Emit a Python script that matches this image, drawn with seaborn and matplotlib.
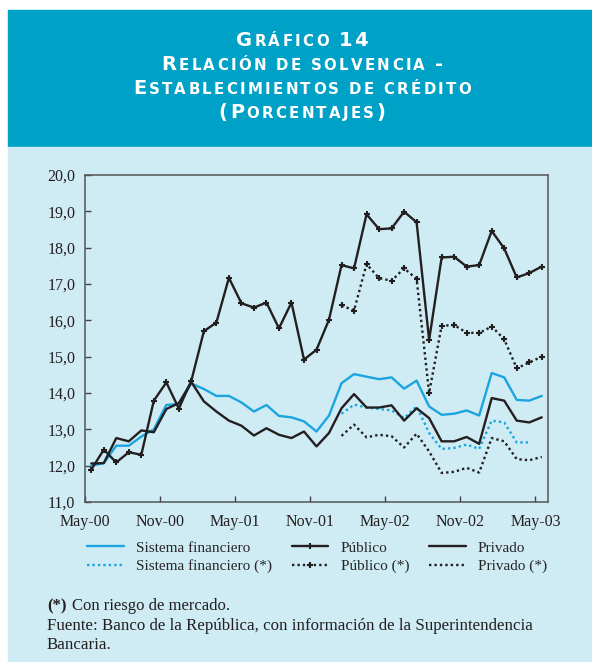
import numpy as np
import pandas as pd
import matplotlib.pyplot as plt
from matplotlib.patches import Rectangle
import seaborn as sns

# monthly, May-00 .. May-03
months = list(range(37))
tick_labels = ["May-00", "Nov-00", "May-01", "Nov-01", "May-02", "Nov-02", "May-03"]

sistema = [12.00, 12.07, 12.55, 12.55, 12.80, 13.00, 13.67, 13.70, 14.26, 14.11,
           13.92, 13.92, 13.74, 13.49, 13.67, 13.37, 13.33, 13.22, 12.94, 13.38,
           14.27, 14.52, 14.45, 14.38, 14.43, 14.12, 14.34, 13.63, 13.40, 13.43,
           13.52, 13.38, 14.55, 14.43, 13.81, 13.79, 13.92]
publico = [11.89, 12.44, 12.09, 12.37, 12.30, 13.79, 14.29, 13.57, 14.34, 15.70,
           15.94, 17.17, 16.47, 16.35, 16.49, 15.78, 16.49, 14.92, 15.19, 16.02,
           17.52, 17.43, 18.92, 18.51, 18.53, 18.99, 18.70, 15.46, 17.73, 17.75,
           17.48, 17.52, 18.46, 17.98, 17.18, 17.30, 17.48]
privado = [12.06, 12.07, 12.76, 12.67, 12.97, 12.92, 13.56, 13.72, 14.30, 13.77,
           13.49, 13.24, 13.10, 12.83, 13.03, 12.85, 12.76, 12.94, 12.53, 12.90,
           13.58, 13.97, 13.60, 13.60, 13.66, 13.24, 13.58, 13.31, 12.67, 12.67,
           12.79, 12.60, 13.86, 13.79, 13.24, 13.19, 13.33]
na = [np.nan] * 20
sistema_mr = na + [13.43, 13.68, 13.60, 13.56, 13.52, 13.31, 13.63, 12.90, 12.46,
                   12.49, 12.58, 12.46, 13.24, 13.19, 12.64, 12.64, np.nan]
publico_mr = na + [16.41, 16.27, 17.55, 17.16, 17.09, 17.43, 17.14, 14.00, 15.85,
                   15.87, 15.66, 15.65, 15.83, 15.48, 14.68, 14.84, 15.00]
privado_mr = na + [12.82, 13.13, 12.78, 12.85, 12.81, 12.50, 12.88, 12.39, 11.80,
                   11.83, 11.94, 11.81, 12.76, 12.67, 12.18, 12.15, 12.24]

df = pd.DataFrame({
    "mes": [m + 0.5 for m in months],
    "sistema": sistema, "publico": publico, "privado": privado,
    "sistema_mr": sistema_mr, "publico_mr": publico_mr, "privado_mr": privado_mr,
})

HEADER = "#00A1C7"
PANEL = "#CFEBF3"
BLUE = "#1AA5E0"
BLACK = "#231F20"
DOT = (0, (1, 1.3))

sns.set_style("ticks")
plt.rcParams["font.family"] = ["Liberation Serif", "DejaVu Serif"]

W, H = 592, 662
fig = plt.figure(figsize=(W / 100, H / 100), dpi=100)
fig.patch.set_facecolor("white")
fig.add_artist(Rectangle((8 / W, 1 - 147 / H), 1, 137 / H, transform=fig.transFigure,
                         color=HEADER, zorder=0))
fig.add_artist(Rectangle((8 / W, 0), 1, 1 - 147 / H, transform=fig.transFigure,
                         color=PANEL, zorder=0))

ax = fig.add_axes([85 / W, 1 - 502 / H, 463 / W, 327 / H])
ax.set_facecolor(PANEL)

series = [
    ("sistema", "Sistema financiero", BLUE, "-", None),
    ("sistema_mr", "Sistema financiero (*)", BLUE, DOT, None),
    ("publico", "Público", BLACK, "-", "+"),
    ("publico_mr", "Público (*)", BLACK, DOT, "+"),
    ("privado", "Privado", BLACK, "-", None),
    ("privado_mr", "Privado (*)", BLACK, DOT, None),
]
for col, label, color, ls, mk in series:
    sns.lineplot(data=df, x="mes", y=col, ax=ax, color=color, linestyle=ls,
                 linewidth=1.7, marker=mk, markersize=4.5, markeredgewidth=1.5,
                 markeredgecolor=color, label=label, legend=False)

ax.set_xlim(0, 37)
ax.set_ylim(11, 20)
ax.set_xticks(range(0, 37, 6))
ax.set_xticklabels(tick_labels)
ax.set_yticks(range(11, 21))
ax.set_yticklabels([f"{v},0" for v in range(11, 21)])
ax.tick_params(direction="in", length=4, width=1, colors="#444444",
               labelcolor=BLACK, labelsize=11.5)
ax.tick_params(axis="x", pad=9)
ax.tick_params(axis="y", pad=7)
ax.set_xlabel("")
ax.set_ylabel("")
for s in ax.spines.values():
    s.set_visible(True)
    s.set_color("#555555")
    s.set_linewidth(1.1)

handles, labels = ax.get_legend_handles_labels()
fig.legend(handles, labels, ncol=3, loc="upper left",
           bbox_to_anchor=(87 / W, 1 - 541 / H), frameon=False, fontsize=11,
           handlelength=2.4, handletextpad=0.8, columnspacing=1.3,
           labelspacing=0.3, borderpad=0, borderaxespad=0)

# title in small caps
fig.canvas.draw()
renderer = fig.canvas.get_renderer()


def small_caps(line, yc, big=14, small=10.8):
    runs = []
    for word_i, word in enumerate(line.split(" ")):
        if word_i:
            runs.append((" ", small))
        for ch in word:
            size = big if (ch.isupper() or ch.isdigit() or ch in "()-") else small
            runs.append((ch.upper(), size))
    texts = []
    for ch, size in runs:
        t = fig.text(0, 1 - yc / H, ch, fontsize=size, fontweight="bold",
                     color="white", family="DejaVu Sans", va="baseline")
        texts.append(t)
    widths = [t.get_window_extent(renderer).width for t in texts]
    spacing = 2.3
    total = sum(widths) + spacing * (len(widths) - 1)
    x = 302 - total / 2
    for t, w in zip(texts, widths):
        t.set_x(x / W)
        x += w + spacing


small_caps("Gráfico 14", 46)
small_caps("Relación de solvencia -", 70)
small_caps("Establecimientos de crédito", 94)
small_caps("(Porcentajes)", 118)

fig.text(47 / W, 1 - 606 / H, "(*)", fontsize=12, fontweight="bold", va="center",
         color=BLACK)
fig.text(72 / W, 1 - 606 / H, "Con riesgo de mercado.", fontsize=12, va="center",
         color=BLACK)
fig.text(47 / W, 1 - 626 / H,
         "Fuente: Banco de la República, con información de la Superintendencia",
         fontsize=12.2, va="center", color=BLACK)
fig.text(47 / W, 1 - 645 / H, "Bancaria.", fontsize=12.2, va="center", color=BLACK)

fig.savefig("out.png", dpi=100, facecolor=fig.get_facecolor())
